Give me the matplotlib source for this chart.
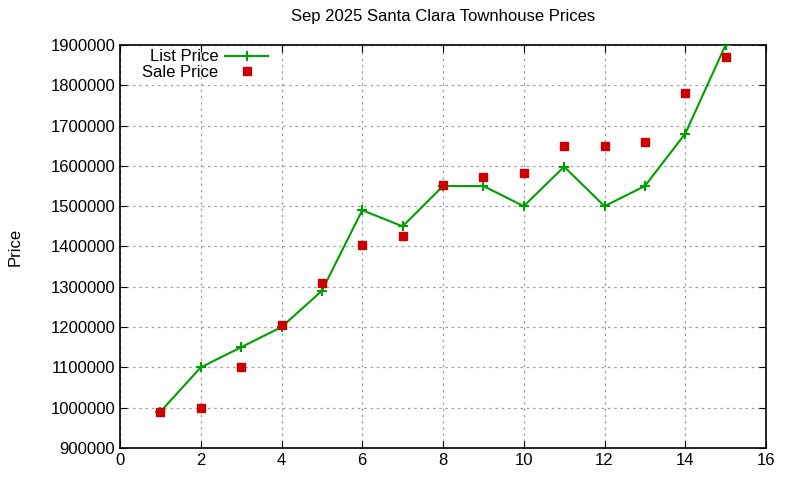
import matplotlib
matplotlib.use('Agg')
import matplotlib.pyplot as plt

plt.rcParams['font.family'] = ['Liberation Sans', 'DejaVu Sans']

x = [1, 2, 3, 4, 5, 6, 7, 8, 9, 10, 11, 12, 13, 14, 15]
list_price = [990000, 1100000, 1150000, 1200000, 1290000, 1490000, 1450000, 1550000,
              1550000, 1500000, 1598000, 1500000, 1550000, 1680000, 1900000]
sale_price = [990000, 1000000, 1100000, 1205000, 1310000, 1403000, 1425000, 1552000,
              1572000, 1583000, 1650000, 1650000, 1660000, 1780000, 1870000]

fig = plt.figure(figsize=(8, 4.8), dpi=100)
ax = fig.add_axes([0.15, 0.0667, 0.8075, 0.8396])

ax.plot(x, list_price, color='#00a000', linewidth=1.5, marker='+', markersize=7,
        markeredgewidth=1.5, label='List Price', zorder=3)
ax.plot(x, sale_price, linestyle='none', marker='s', markersize=6, color='#cc0000',
        label='Sale Price', zorder=4)

ax.set_xlim(0, 16)
ax.set_ylim(900000, 1900000)
ax.set_xticks(range(0, 17, 2))
ax.set_yticks(range(900000, 1900001, 100000))
ax.ticklabel_format(style='plain', axis='y')
ax.grid(True, color='#a0a0a0', linestyle=(0, (2, 3)), linewidth=0.9)
ax.set_axisbelow(True)
ax.tick_params(direction='in', top=True, right=True, labelsize=12, length=5)
for s in ax.spines.values():
    s.set_linewidth(1.2)

ax.set_ylabel('Price', fontsize=12, labelpad=20)
ax.set_title('Sep 2025 Santa Clara Townhouse Prices', fontsize=12, pad=17)

leg = ax.legend(loc='upper left', frameon=False, markerfirst=False, fontsize=12,
                bbox_to_anchor=(0.019, 1.014), handlelength=2.6, labelspacing=0.05,
                handletextpad=0.4, borderaxespad=0.2)
for t in leg.get_texts():
    t.set_ha('right')

fig.savefig('out.png', dpi=100)
